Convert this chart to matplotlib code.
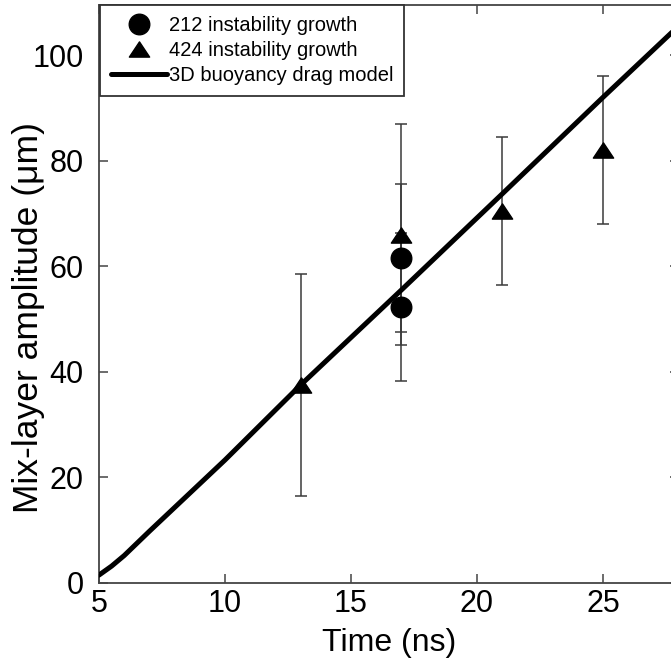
import matplotlib
matplotlib.use("Agg")
import matplotlib.pyplot as plt
from matplotlib.path import Path

plt.rcParams["font.family"] = ["Liberation Sans", "DejaVu Sans"]

# Measured mix-layer amplitudes (um) with error bars
t_212 = [17, 17]
amp_212 = [61.5, 52.3]
err_212 = [14, 14]

t_424 = [13, 17, 21, 25]
amp_424 = [37.5, 66.0, 70.5, 82.0]
err_424 = [21, 21, 14, 14]

# 3D buoyancy drag model curve
t_model = [5, 5.5, 6, 7, 8, 10, 13, 17, 21, 25, 28]
amp_model = [1.5, 3.2, 5.2, 9.8, 14.3, 23.3, 37.5, 55.5, 73.7, 92.0, 105.5]

x_ticks = [5, 10, 15, 20, 25]
y_ticks = [0, 20, 40, 60, 80, 100]

W, H = 671, 662
fig = plt.figure(figsize=(W / 100, H / 100), dpi=100)
ax = fig.add_axes([99 / W, 1 - 583 / H, (678.5 - 99) / W, (583 - 5) / H])

# flattened triangle marker
tri = Path([(0, 0.75), (-1, -0.75), (1, -0.75), (0, 0.75)],
           [Path.MOVETO, Path.LINETO, Path.LINETO, Path.CLOSEPOLY])

line_model, = ax.plot(t_model, amp_model, color="black", lw=3.6,
                      solid_capstyle="round", zorder=3)

ax.errorbar(t_212, amp_212, yerr=err_212, fmt="none", ecolor="#3a3a3a",
            elinewidth=1.1, capsize=4, capthick=1.1, zorder=2)
ax.errorbar(t_424, amp_424, yerr=err_424, fmt="none", ecolor="#3a3a3a",
            elinewidth=1.1, capsize=4, capthick=1.1, zorder=2)
pts_212, = ax.plot(t_212, amp_212, "o", color="black", ms=14.8, zorder=4,
                   linestyle="none")
pts_424, = ax.plot(t_424, amp_424, marker=tri, color="black", ms=14.6,
                   zorder=4, linestyle="none")

ax.set_xlim(5, 28)
ax.set_ylim(0, 109.5)
ax.set_xticks(x_ticks)
ax.set_yticks(y_ticks)

for s in ax.spines.values():
    s.set_color("#444444")
    s.set_linewidth(1.3)

ax.tick_params(axis="both", which="major", direction="in", length=6.5,
               width=1.1, color="#444444", labelsize=22,
               top=True, right=True)
ax.tick_params(axis="x", pad=4)
ax.tick_params(axis="y", pad=11)

ax.set_xlabel("Time (ns)", fontsize=23, labelpad=7)
ax.set_ylabel("Mix-layer amplitude (μm)", fontsize=25.5)
ax.yaxis.set_label_coords(-0.094, 0.46)

leg = ax.legend([pts_212, pts_424, line_model],
                ["212 instability growth", "424 instability growth",
                 "3D buoyancy drag model"],
                loc="upper left", bbox_to_anchor=(0.002, 1.0),
                borderaxespad=0, fontsize=14.5, handlelength=2.75,
                handletextpad=0.1, labelspacing=0.3, borderpad=0.55,
                fancybox=False, framealpha=1, edgecolor="#333333",
                markerscale=1.0)
leg.get_frame().set_linewidth(1.3)

fig.savefig("out.png", dpi=100)
